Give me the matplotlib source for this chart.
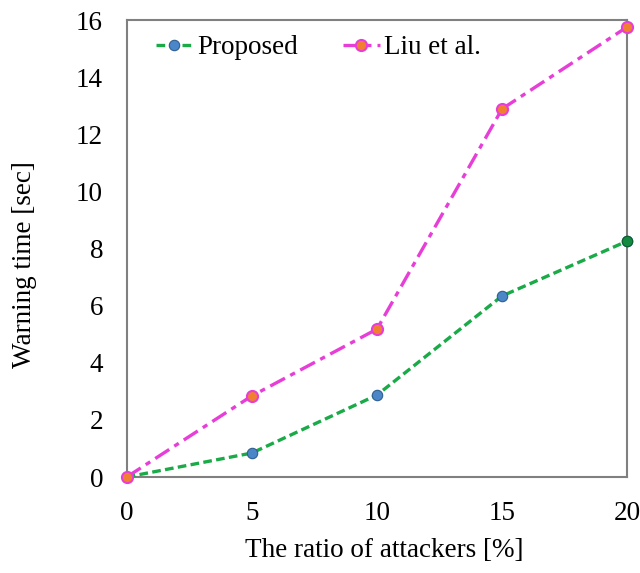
import matplotlib
matplotlib.use("Agg")
import matplotlib.pyplot as plt

ratios = [0, 5, 10, 15, 20]
proposed = [0.0, 0.84, 2.87, 6.34, 8.26]
liu = [0.0, 2.84, 5.18, 12.89, 15.76]
xticks = [0, 5, 10, 15, 20]
yticks = [0, 2, 4, 6, 8, 10, 12, 14, 16]

plt.rcParams['font.family'] = ['Liberation Serif', 'DejaVu Serif']

fig = plt.figure(figsize=(6.4, 5.73), dpi=100)
ax = fig.add_axes([0.198, 0.1675, 0.782, 0.7975])

ax.plot(ratios, proposed, linestyle=(0, (2.6, 1.3)), color='#1aaa48', lw=2.4,
        marker='o', markersize=7.5, markerfacecolor='#4a86c8', markeredgecolor='#2f5f8f',
        markeredgewidth=0.8, label='Proposed', zorder=3)
ax.plot(ratios, liu, linestyle=(0, (5, 1.8, 1.6, 1.8)), color='#e83ed8', lw=2.4,
        marker='o', markersize=8, markerfacecolor='#f08030', markeredgecolor='#e83ed8',
        markeredgewidth=1.5, label='Liu et al.', zorder=3)
# last proposed marker rendered greenish in the original
ax.plot(ratios[-1:], proposed[-1:], linestyle='none', marker='o', markersize=7.5,
        markerfacecolor='#138a40', markeredgecolor='#0d5e2c', markeredgewidth=0.8,
        zorder=4, clip_on=False)

ax.set_xlim(0, 20)
ax.set_ylim(0, 16)
ax.set_xticks(xticks)
ax.set_yticks(yticks)
ax.tick_params(axis='both', length=0, labelsize=19.5)
ax.tick_params(axis='y', pad=17)
ax.tick_params(axis='x', pad=17)
for sp in ax.spines.values():
    sp.set_color('#808080')
    sp.set_linewidth(1.5)
for ln in ax.get_lines():
    ln.set_clip_on(False)

ax.set_xlabel('The ratio of attackers [%]', fontsize=19.5)
ax.set_ylabel('Warning time [sec]', fontsize=19.5)
ax.xaxis.label.set_va('center')
ax.xaxis.set_label_coords(0.514, -0.16)
ax.yaxis.label.set_va('center')
ax.yaxis.label.set_ha('center')
ax.yaxis.set_label_coords(-0.204, 0.466)

ax.legend(loc='upper left', ncol=2, frameon=False, fontsize=19.5,
          handlelength=1.37, handletextpad=0.15, columnspacing=1.67,
          bbox_to_anchor=(0.058, 0.967), borderaxespad=0, borderpad=0)

fig.savefig('out.png', dpi=100)
